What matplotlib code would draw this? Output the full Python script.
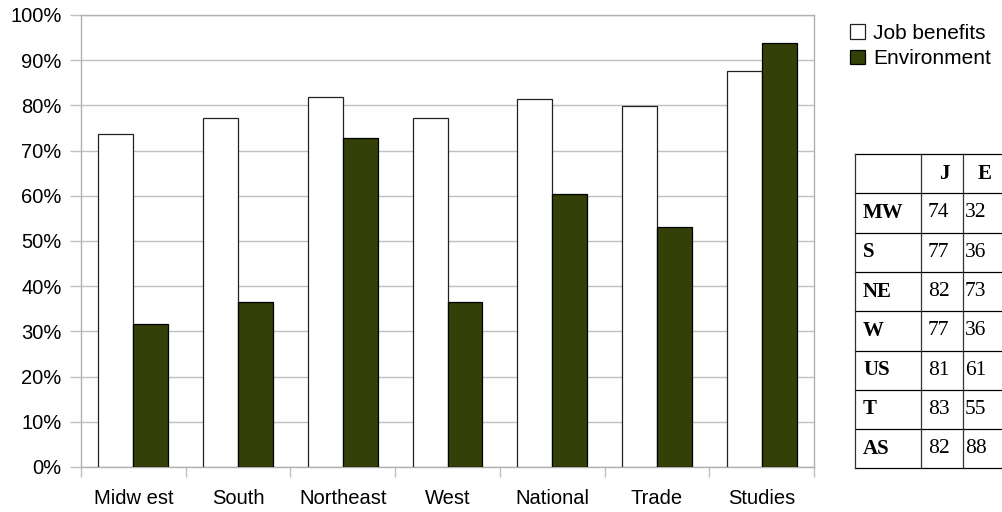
"""Job benefits vs. environment support by region, with a summary table."""

import matplotlib.pyplot as plt
import numpy as np

categories = ["Midw est", "South", "Northeast", "West", "National", "Trade", "Studies"]
job_benefits = [73.7, 77.3, 81.8, 77.3, 81.4, 79.9, 87.5]
environment = [31.6, 36.4, 72.8, 36.4, 60.5, 53.2, 93.7]

table_rows = ["MW", "S", "NE", "W", "US", "T", "AS"]
table_j = [74, 77, 82, 77, 81, 83, 82]
table_e = [32, 36, 73, 36, 61, 55, 88]

GREEN = "#334007"
GRID = "#c0c0c0"
SANS = "Liberation Sans"
SERIF = "Liberation Serif"

W, H = 1002, 512
fig = plt.figure(figsize=(W / 100, H / 100), dpi=100)
ax = fig.add_axes([81 / W, (H - 467) / H, 733 / W, 452 / H])

x = np.arange(len(categories))
width = 0.334
ax.bar(x - width / 2, job_benefits, width, color="white", edgecolor="#222222",
       linewidth=0.9, label="Job benefits", zorder=3)
ax.bar(x + width / 2, environment, width, color=GREEN, edgecolor="black",
       linewidth=0.9, label="Environment", zorder=3)

ax.set_xlim(-0.5, len(categories) - 0.5)
ax.set_ylim(0, 100)
ax.set_yticks(np.arange(0, 101, 10))
ax.set_yticklabels([f"{v}%" for v in range(0, 101, 10)], family=SANS, fontsize=14.5)
ax.yaxis.grid(True, color=GRID, linewidth=1.0, zorder=0)
ax.tick_params(axis="y", length=8, color=GRID, width=1.0, pad=6)

ax.set_xticks(x)
ax.set_xticklabels(categories, family=SANS, fontsize=14.5)
ax.set_xticks(np.arange(-0.5, len(categories)), minor=True)
ax.tick_params(axis="x", which="major", length=0, pad=16)
ax.tick_params(axis="x", which="minor", length=7, color=GRID, width=1.0)

for spine in ax.spines.values():
    spine.set_color("#b0b0b0")
    spine.set_linewidth(1.0)

ax.legend(loc="upper left", bbox_to_anchor=(850 / W, 1 - 24 / H),
          bbox_transform=fig.transFigure, frameon=False,
          prop={"family": SANS, "size": 15}, handlelength=0.7, handleheight=0.7,
          handletextpad=0.4, labelspacing=0.3, borderpad=0, borderaxespad=0)

# summary table drawn in pixel units
top, row_h = 154, 39.3
left, c1, c2, right = 855, 921, 963, 1010
n = len(table_rows) + 1
tx = fig.add_axes([0, 0, 1, 1], facecolor="none")
tx.set_xlim(0, W)
tx.set_ylim(H, 0)
tx.axis("off")
for i in range(n + 1):
    tx.plot([left, right], [top + i * row_h] * 2, color="black", lw=0.9, clip_on=False)
for cx in (left, c1, c2):
    tx.plot([cx, cx], [top, top + n * row_h], color="#333333", lw=0.9, clip_on=False)

head_y = top + row_h / 2
tx.text(944, head_y, "J", ha="center", va="center", family=SERIF,
        fontweight="bold", fontsize=15)
tx.text(985, head_y, "E", ha="center", va="center", family=SERIF,
        fontweight="bold", fontsize=15)
for i, (lab, j, e) in enumerate(zip(table_rows, table_j, table_e)):
    cy = top + (i + 1.5) * row_h
    tx.text(863, cy, lab, ha="left", va="center", family=SERIF,
            fontweight="bold", fontsize=15)
    tx.text(928, cy, str(j), ha="left", va="center", family=SERIF, fontsize=15.5)
    tx.text(965, cy, str(e), ha="left", va="center", family=SERIF, fontsize=15.5)

fig.savefig("out.png", dpi=100)
